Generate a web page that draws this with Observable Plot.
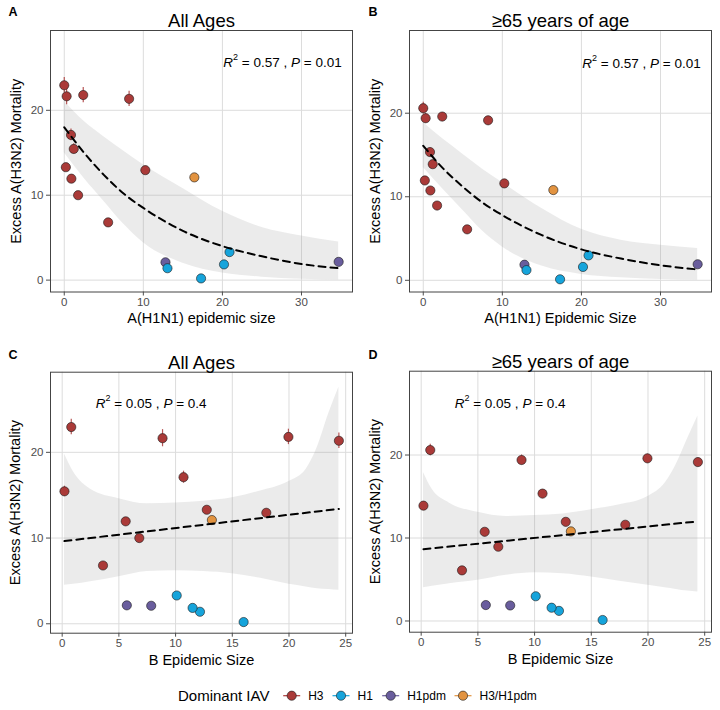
<!DOCTYPE html>
<html><head><meta charset="utf-8">
<script src="https://cdn.jsdelivr.net/npm/d3@7"></script>
<script src="https://cdn.jsdelivr.net/npm/@observablehq/plot@0.6"></script>
<style>
body{margin:0;background:#fff;font-family:"Liberation Sans",Arial,sans-serif;}
#wrap{position:relative;width:720px;height:710px;overflow:hidden;}
.p{position:absolute;}
</style></head><body><div id="wrap"></div>
<script>
// ---- data (one entry per season) ----
const h1Size   = [0.0, 0.3, 2.4, 8.2, 0.85, 1.2, 0.2, 0.9, 1.75, 10.25, 5.55, 16.45, 12.8, 34.7, 13.05, 17.3, 20.2, 20.9];
const bSize    = [0.8, 8.85, 19.95, 24.4, 10.7, 0.2, 12.75, 5.6, 6.8, 18.0, 3.6, 13.2, 7.85, 5.7, 12.15, 16.0, 11.5, 10.1];
const mortAll  = [22.95, 21.65, 21.8, 21.35, 17.1, 15.45, 13.3, 11.95, 10.0, 12.95, 6.8, 12.1, 2.1, 2.15, 1.4, 0.2, 1.85, 3.3];
const mort65   = [20.6, 19.4, 19.6, 19.15, 15.35, 13.9, 11.95, 10.75, 8.95, 11.6, 6.1, 10.8, 1.87, 1.92, 1.22, 0.12, 1.6, 2.98];
const errAll   = [0.9, 1.0, 0.9, 0.9, 0.7, 0.6, 0.4, 0.4, 0.35, 0.45, 0.3, 0.3, 0.1, 0.1, 0.1, 0.1, 0.1, 0.1];
const err65    = [0.7, 0.6, 0.5, 0.5, 0.5, 0.4, 0.3, 0.3, 0.3, 0.35, 0.25, 0.25, 0.1, 0.1, 0.1, 0.1, 0.1, 0.1];
const dominant = ["H3","H3","H3","H3","H3","H3","H3","H3","H3","H3","H3","H3/H1pdm","H1pdm","H1pdm","H1","H1","H1","H1"];

const iavTypes  = ["H3", "H1", "H1pdm", "H3/H1pdm"];
const iavColors = ["#AA3A38", "#16A4DB", "#695D9D", "#E29340"];

// fitted curves and confidence ribbons
const fitH1X   = [0, 2.5, 5, 7.5, 10, 15, 20, 25, 30, 34.7];
const fitAllH1 = [18.0, 15.0, 12.4, 10.2, 8.5, 5.8, 4.0, 2.8, 1.9, 1.4];
const loAllH1  = [15.0, 12.0, 9.3, 6.6, 4.4, 2.0, 0.85, 0.35, 0.1, 0.0];
const hiAllH1  = [21.1, 18.7, 16.9, 15.2, 13.6, 10.8, 8.1, 6.2, 5.2, 4.5];
const fit65H1  = [16.1, 13.4, 11.2, 9.3, 7.8, 5.4, 3.7, 2.6, 1.8, 1.3];
const lo65H1   = [13.5, 10.9, 8.4, 5.9, 4.0, 1.7, 0.7, 0.3, 0.1, 0.0];
const hi65H1   = [18.9, 16.9, 15.1, 13.3, 11.7, 8.6, 6.1, 4.8, 4.2, 3.8];

const fitBX    = [0.2, 24.4];
const fitAllB  = [9.65, 13.4];
const fit65B   = [8.65, 12.0];
const ribBX    = [0.2, 1, 2.5, 5, 7.5, 10, 12.5, 15, 17.5, 20, 21.5, 22.5, 23.5, 24.4];
const loAllB   = [4.5, 4.6, 4.9, 5.5, 6.1, 6.2, 6.1, 5.85, 5.3, 4.6, 4.3, 4.1, 4.0, 3.9];
const hiAllB   = [19.8, 17.7, 15.7, 14.6, 14.0, 14.1, 14.3, 14.7, 15.5, 16.6, 18.0, 20.6, 24.5, 27.6];
const lo65B    = [4.0, 4.2, 4.5, 4.9, 5.5, 5.8, 5.7, 5.3, 4.8, 4.3, 4.0, 3.8, 3.6, 3.5];
const hi65B    = [17.9, 15.8, 14.2, 13.1, 12.6, 12.7, 12.9, 13.4, 14.0, 15.0, 16.6, 18.9, 22.0, 24.7];

const yTicks = [0, 10, 20];
const xTicksH1 = [0, 10, 20, 30];
const xTicksB = [0, 5, 10, 15, 20, 25];

const rows = h1Size.map((_, i) => ({
  h1: h1Size[i], b: bSize[i], all: mortAll[i], old: mort65[i],
  eAll: errAll[i], eOld: err65[i], dom: dominant[i]
}));

const FONT = "Liberation Sans, Arial, Helvetica, sans-serif";
const wrap = document.getElementById("wrap");

function panel(o) {
  const fit = o.fitX.map((x, i) => ({x, y: o.fitY[i]}));
  const rib = o.ribX.map((x, i) => ({x, lo: o.ribLo[i], hi: o.ribHi[i]}));
  const chart = Plot.plot({
    width: o.width, height: o.height,
    marginLeft: o.mL, marginRight: o.mR, marginTop: o.mT, marginBottom: o.mB,
    style: {fontFamily: FONT, background: "transparent", overflow: "visible"},
    x: {domain: o.xDomain},
    y: {domain: o.yDomain},
    color: {domain: iavTypes, range: iavColors},
    marks: [
      Plot.gridX({ticks: o.xTicks, stroke: "#dcdcdc", strokeOpacity: 1, strokeWidth: 1}),
      Plot.gridY({ticks: yTicks, stroke: "#dcdcdc", strokeOpacity: 1, strokeWidth: 1}),
      Plot.areaY(rib, {x: "x", y1: "lo", y2: "hi", fill: "#999", fillOpacity: 0.2, curve: "monotone-x"}),
      Plot.ruleX(rows, {x: o.xKey, y1: d => d[o.yKey] - d[o.eKey], y2: d => d[o.yKey] + d[o.eKey], stroke: "dom", strokeWidth: 1.2, strokeOpacity: 0.85}),
      Plot.dot(rows, {x: o.xKey, y: o.yKey, fill: "dom", r: 4.6, stroke: "#1a1a1a", strokeWidth: 0.6}),
      Plot.line(fit, {x: "x", y: "y", stroke: "#000", strokeWidth: 2, strokeDasharray: "7,5", curve: "monotone-x"}),
      Plot.frame({stroke: "#444", strokeWidth: 1}),
      Plot.axisX({ticks: o.xTicks, tickSize: 4, tickPadding: 2, fontSize: 11.5, color: "#4d4d4d", label: null}),
      Plot.axisY({ticks: yTicks, tickSize: 4, tickPadding: 3, fontSize: 11.5, color: "#4d4d4d", label: null}),
      Plot.text([o.xLabel], {text: d => d, frameAnchor: "bottom", dy: o.xLabelDy, fontSize: 14.5, fill: "#000"}),
      Plot.text(["Excess A(H3N2) Mortality"], {text: d => d, frameAnchor: "left", textAnchor: "middle", dx: o.yLabelDx, rotate: -90, fontSize: 14.5, fill: "#000"}),
      Plot.text([o.title], {text: d => d, frameAnchor: "top", dy: o.titleDy, fontSize: 18.5, fill: "#000"}),
      Plot.text([o.letter], {text: d => d, frameAnchor: "top-left", textAnchor: "start", dx: 8 - o.mL, dy: o.letterDy, fontWeight: "bold", fontSize: 12.5, fill: "#000"})
    ]
  });
  // rich-text annotation (italic R / P, superscript 2)
  const t = d3.select(chart).append("text")
    .attr("x", o.mL + o.annDx).attr("y", o.mT + o.annDy)
    .attr("text-anchor", "start")
    .attr("dominant-baseline", "central")
    .attr("font-size", 13.5).attr("fill", "#000").attr("font-family", FONT);
  t.append("tspan").attr("font-style", "italic").text("R");
  t.append("tspan").attr("font-size", 9).attr("dy", -5).text("2");
  t.append("tspan").attr("dy", 5).text(" = " + o.r2 + " , ");
  t.append("tspan").attr("font-style", "italic").text("P");
  t.append("tspan").text(" = " + o.p);

  chart.classList.add("p");
  chart.style.left = o.left + "px";
  chart.style.top = o.top + "px";
  wrap.appendChild(chart);
}

panel({left: 0, top: 0, width: 360, height: 330, mL: 50, mR: 8, mT: 30, mB: 38.5,
  xKey: "h1", yKey: "all", eKey: "eAll", xDomain: [-1.74, 36.45], xTicks: xTicksH1, yDomain: [-1.4, 29.4],
  fitX: fitH1X, fitY: fitAllH1, ribX: fitH1X, ribLo: loAllH1, ribHi: hiAllH1,
  title: "All Ages", letter: "A", letterDy: -23, titleDy: -16.5, xLabel: "A(H1N1) epidemic size", xLabelDy: 31, yLabelDx: -34,
  annDx: 173.3, annDy: 31.7, r2: "0.57", p: "0.01"});

panel({left: 360, top: 0, width: 360, height: 330, mL: 49, mR: 9, mT: 30, mB: 38.5,
  xKey: "h1", yKey: "old", eKey: "eOld", xDomain: [-1.74, 36.45], xTicks: xTicksH1, yDomain: [-1.4, 29.9],
  fitX: fitH1X, fitY: fit65H1, ribX: fitH1X, ribLo: lo65H1, ribHi: hi65H1,
  title: "\u226565 years of age", letter: "B", letterDy: -23, titleDy: -16.5, xLabel: "A(H1N1) Epidemic Size", xLabelDy: 31, yLabelDx: -34,
  annDx: 173.3, annDy: 33.3, r2: "0.57", p: "0.01"});

panel({left: 0, top: 330, width: 360, height: 340, mL: 50, mR: 8, mT: 41.7, mB: 37.3,
  xKey: "b", yKey: "all", eKey: "eAll", xDomain: [-1.03, 25.6], xTicks: xTicksB, yDomain: [-1.1, 29.35],
  fitX: fitBX, fitY: fitAllB, ribX: ribBX, ribLo: loAllB, ribHi: hiAllB,
  title: "All Ages", letter: "C", letterDy: -22, titleDy: -16.7, xLabel: "B Epidemic Size", xLabelDy: 32, yLabelDx: -35,
  annDx: 45.7, annDy: 31.7, r2: "0.05", p: "0.4"});

panel({left: 360, top: 330, width: 360, height: 340, mL: 49, mR: 9, mT: 40.7, mB: 38.3,
  xKey: "b", yKey: "old", eKey: "eOld", xDomain: [-1.03, 25.6], xTicks: xTicksB, yDomain: [-1.35, 30.1],
  fitX: fitBX, fitY: fit65B, ribX: ribBX, ribLo: lo65B, ribHi: hi65B,
  title: "\u226565 years of age", letter: "D", letterDy: -21, titleDy: -16.7, xLabel: "B Epidemic Size", xLabelDy: 32, yLabelDx: -34,
  annDx: 45.7, annDy: 32.6, r2: "0.05", p: "0.4"});

// ---- legend ----
const legendX = [291.7, 341, 390.7, 463];
const lg = d3.select(wrap).append("svg").attr("class", "p")
  .style("left", "0px").style("top", "670px")
  .attr("width", 720).attr("height", 40).attr("font-family", FONT);
lg.append("text").attr("x", 178).attr("y", 25.7).attr("dominant-baseline", "central")
  .attr("font-size", 15).attr("fill", "#000").text("Dominant IAV");
iavTypes.forEach((t, i) => {
  const cx = legendX[i];
  lg.append("line").attr("x1", cx - 8.5).attr("x2", cx + 8.5).attr("y1", 25.7).attr("y2", 25.7)
    .attr("stroke", iavColors[i]).attr("stroke-width", 1.2);
  lg.append("circle").attr("cx", cx).attr("cy", 25.7).attr("r", 4.6)
    .attr("fill", iavColors[i]).attr("stroke", "#1a1a1a").attr("stroke-width", 0.6);
  lg.append("text").attr("x", cx + 16.5).attr("y", 25.7).attr("dominant-baseline", "central")
    .attr("font-size", 12).attr("fill", "#000").text(t);
});
</script>
</body></html>
